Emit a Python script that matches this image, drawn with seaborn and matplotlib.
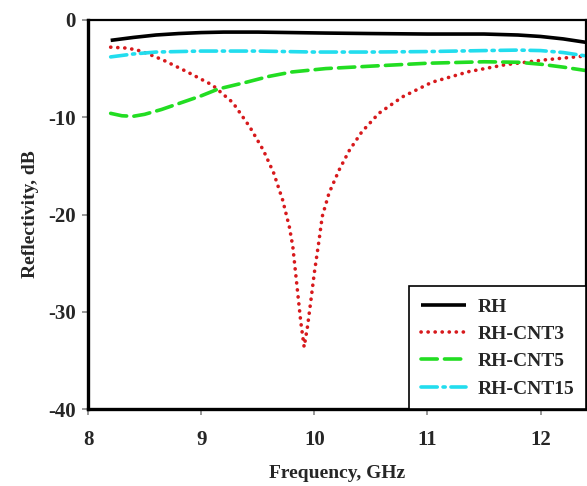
import pandas as pd
import numpy as np
import matplotlib
matplotlib.use("Agg")
import matplotlib.pyplot as plt
import seaborn as sns

# frequency (GHz) / reflectivity (dB)
rh_f = [8.2, 8.4, 8.6, 8.8, 9.0, 9.2, 9.5, 9.8, 10.1, 10.5, 11.0, 11.5, 11.8, 12.0, 12.2, 12.4]
rh_r = [-2.1, -1.8, -1.55, -1.4, -1.3, -1.25, -1.25, -1.3, -1.35, -1.4, -1.45, -1.45, -1.55, -1.7, -1.95, -2.3]

cnt3_f = [8.2, 8.35, 8.47, 8.66, 8.87, 9.10, 9.28, 9.43, 9.55, 9.64, 9.72, 9.78, 9.81, 9.85, 9.88, 9.91,
          9.94, 9.97, 10.0, 10.04, 10.07, 10.13, 10.22, 10.31, 10.42, 10.57, 10.78, 11.04, 11.37, 11.69, 12.04, 12.4]
cnt3_r = [-2.8, -2.9, -3.2, -4.1, -5.3, -6.7, -8.5, -11.0, -13.4, -15.7, -18.5, -21.3, -23.3, -27.7, -31.0, -33.6,
          -31.5, -28.8, -26.0, -22.8, -20.2, -17.8, -15.4, -13.4, -11.5, -9.6, -7.9, -6.4, -5.3, -4.6, -4.1, -3.7]

cnt5_f = [8.2, 8.3, 8.4, 8.5, 8.65, 8.8, 9.0, 9.15, 9.4, 9.6, 9.8, 10.1, 10.5, 11.0, 11.5, 11.8, 12.0, 12.2, 12.4]
cnt5_r = [-9.6, -9.85, -9.9, -9.7, -9.2, -8.6, -7.8, -7.1, -6.4, -5.8, -5.35, -5.0, -4.75, -4.45, -4.3, -4.35, -4.55, -4.85, -5.2]

cnt15_f = [8.2, 8.4, 8.6, 8.8, 9.0, 9.5, 10.0, 10.5, 11.0, 11.5, 11.8, 12.0, 12.2, 12.4]
cnt15_r = [-3.8, -3.5, -3.3, -3.25, -3.2, -3.2, -3.3, -3.3, -3.25, -3.15, -3.1, -3.15, -3.35, -3.7]

names = ["RH", "RH-CNT3", "RH-CNT5", "RH-CNT15"]
colors = {"RH": "#000000", "RH-CNT3": "#d7191c", "RH-CNT5": "#22dd22", "RH-CNT15": "#22ddee"}
dashes = {"RH": "", "RH-CNT3": (0.05, 1.9), "RH-CNT5": (4.5, 2.0), "RH-CNT15": (4.5, 1.6, 0.6, 1.6)}

df = pd.concat([
    pd.DataFrame({"f": rh_f, "r": rh_r, "sample": "RH"}),
    pd.DataFrame({"f": cnt3_f, "r": cnt3_r, "sample": "RH-CNT3"}),
    pd.DataFrame({"f": cnt5_f, "r": cnt5_r, "sample": "RH-CNT5"}),
    pd.DataFrame({"f": cnt15_f, "r": cnt15_r, "sample": "RH-CNT15"}),
], ignore_index=True)

sns.set_theme(style="ticks")
plt.rcParams["font.family"] = ["Liberation Serif", "DejaVu Serif"]
plt.rcParams["font.weight"] = "bold"
plt.rcParams["axes.unicode_minus"] = False

fig, ax = plt.subplots(figsize=(5.87, 4.86), dpi=100)
fig.subplots_adjust(left=0.15, right=0.998, top=0.959, bottom=0.158)

sns.lineplot(data=df, x="f", y="r", hue="sample", style="sample", hue_order=names, style_order=names,
             palette=colors, dashes=dashes, linewidth=2.6, sort=False, ax=ax)
for ln in ax.lines:
    ln.set_dash_capstyle("round")
    ln.set_solid_capstyle("butt")

ax.set_xlim(8, 12.4)
ax.set_ylim(-40, 0)
ax.set_xticks([8, 9, 10, 11, 12])
ax.set_yticks([-40, -30, -20, -10, 0])
ax.tick_params(axis="both", labelsize=15, width=1.2, length=4, direction="out", color="#888888")
ax.tick_params(axis="x", pad=11)
ax.tick_params(axis="y", pad=5)
for lab in ax.get_xticklabels() + ax.get_yticklabels():
    lab.set_fontweight("bold")
for s in ax.spines.values():
    s.set_linewidth(1.6)
    s.set_color("black")
ax.spines["left"].set_linewidth(2.4)
ax.spines["bottom"].set_linewidth(2.4)

ax.set_xlabel("Frequency, GHz", fontsize=14, fontweight="bold", labelpad=11)
ax.set_ylabel("Reflectivity, dB", fontsize=14, fontweight="bold", labelpad=6)

leg = ax.legend(loc="lower right", borderaxespad=0, fontsize=14, handlelength=2.3,
                frameon=True, fancybox=False, edgecolor="black", framealpha=1,
                labelspacing=0.5, borderpad=0.6, handletextpad=0.6)
leg.get_frame().set_linewidth(1.2)
for t in leg.get_texts():
    t.set_fontweight("bold")

fig.savefig("out.png", dpi=100)
